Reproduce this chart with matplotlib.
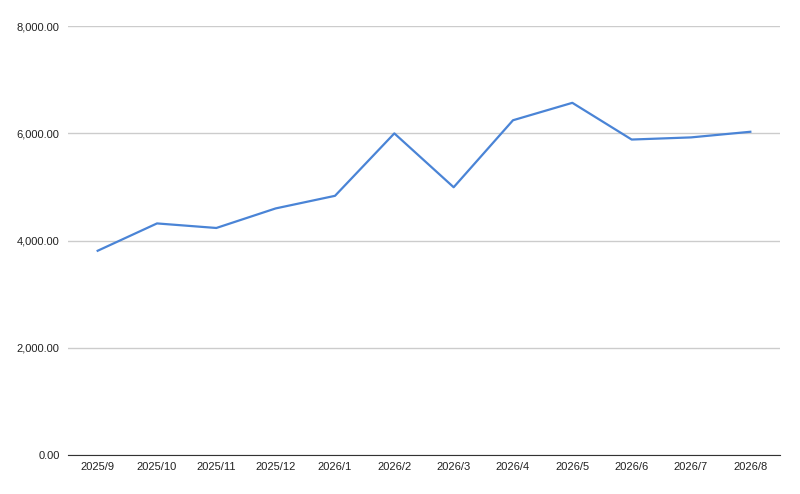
import matplotlib
matplotlib.use('Agg')
import matplotlib.pyplot as plt
from matplotlib.ticker import FuncFormatter

plt.rcParams['font.family'] = ['Liberation Sans', 'DejaVu Sans']

months = ['2025/9', '2025/10', '2025/11', '2025/12', '2026/1', '2026/2',
          '2026/3', '2026/4', '2026/5', '2026/6', '2026/7', '2026/8']
values = [3810, 4320, 4235, 4600, 4835, 6000,
          4995, 6245, 6570, 5885, 5925, 6030]
y_ticks = [0, 2000, 4000, 6000, 8000]

fig = plt.figure(figsize=(8, 4.94), dpi=100)
ax = fig.add_axes([0.085, 0.079, 0.89, 0.868])

x = list(range(len(months)))
ax.plot(x, values, color='#4a84d6', lw=1.6, zorder=3)

ax.set_xlim(-0.5, len(months) - 0.5)
ax.set_ylim(0, 8000)
ax.set_yticks(y_ticks)
ax.yaxis.set_major_formatter(FuncFormatter(lambda v, p: f'{v:,.2f}'))
ax.set_xticks(x)
ax.set_xticklabels(months)
ax.grid(axis='y', color='#cccccc', lw=1)
ax.set_axisbelow(True)

for s in ['top', 'right', 'left']:
    ax.spines[s].set_visible(False)
ax.spines['bottom'].set_color('#333333')
ax.spines['bottom'].set_zorder(4)
ax.tick_params(axis='both', length=0, labelsize=8, colors='#222222')
ax.tick_params(axis='y', pad=6)
ax.tick_params(axis='x', pad=5)

fig.savefig('out.png', dpi=100)
